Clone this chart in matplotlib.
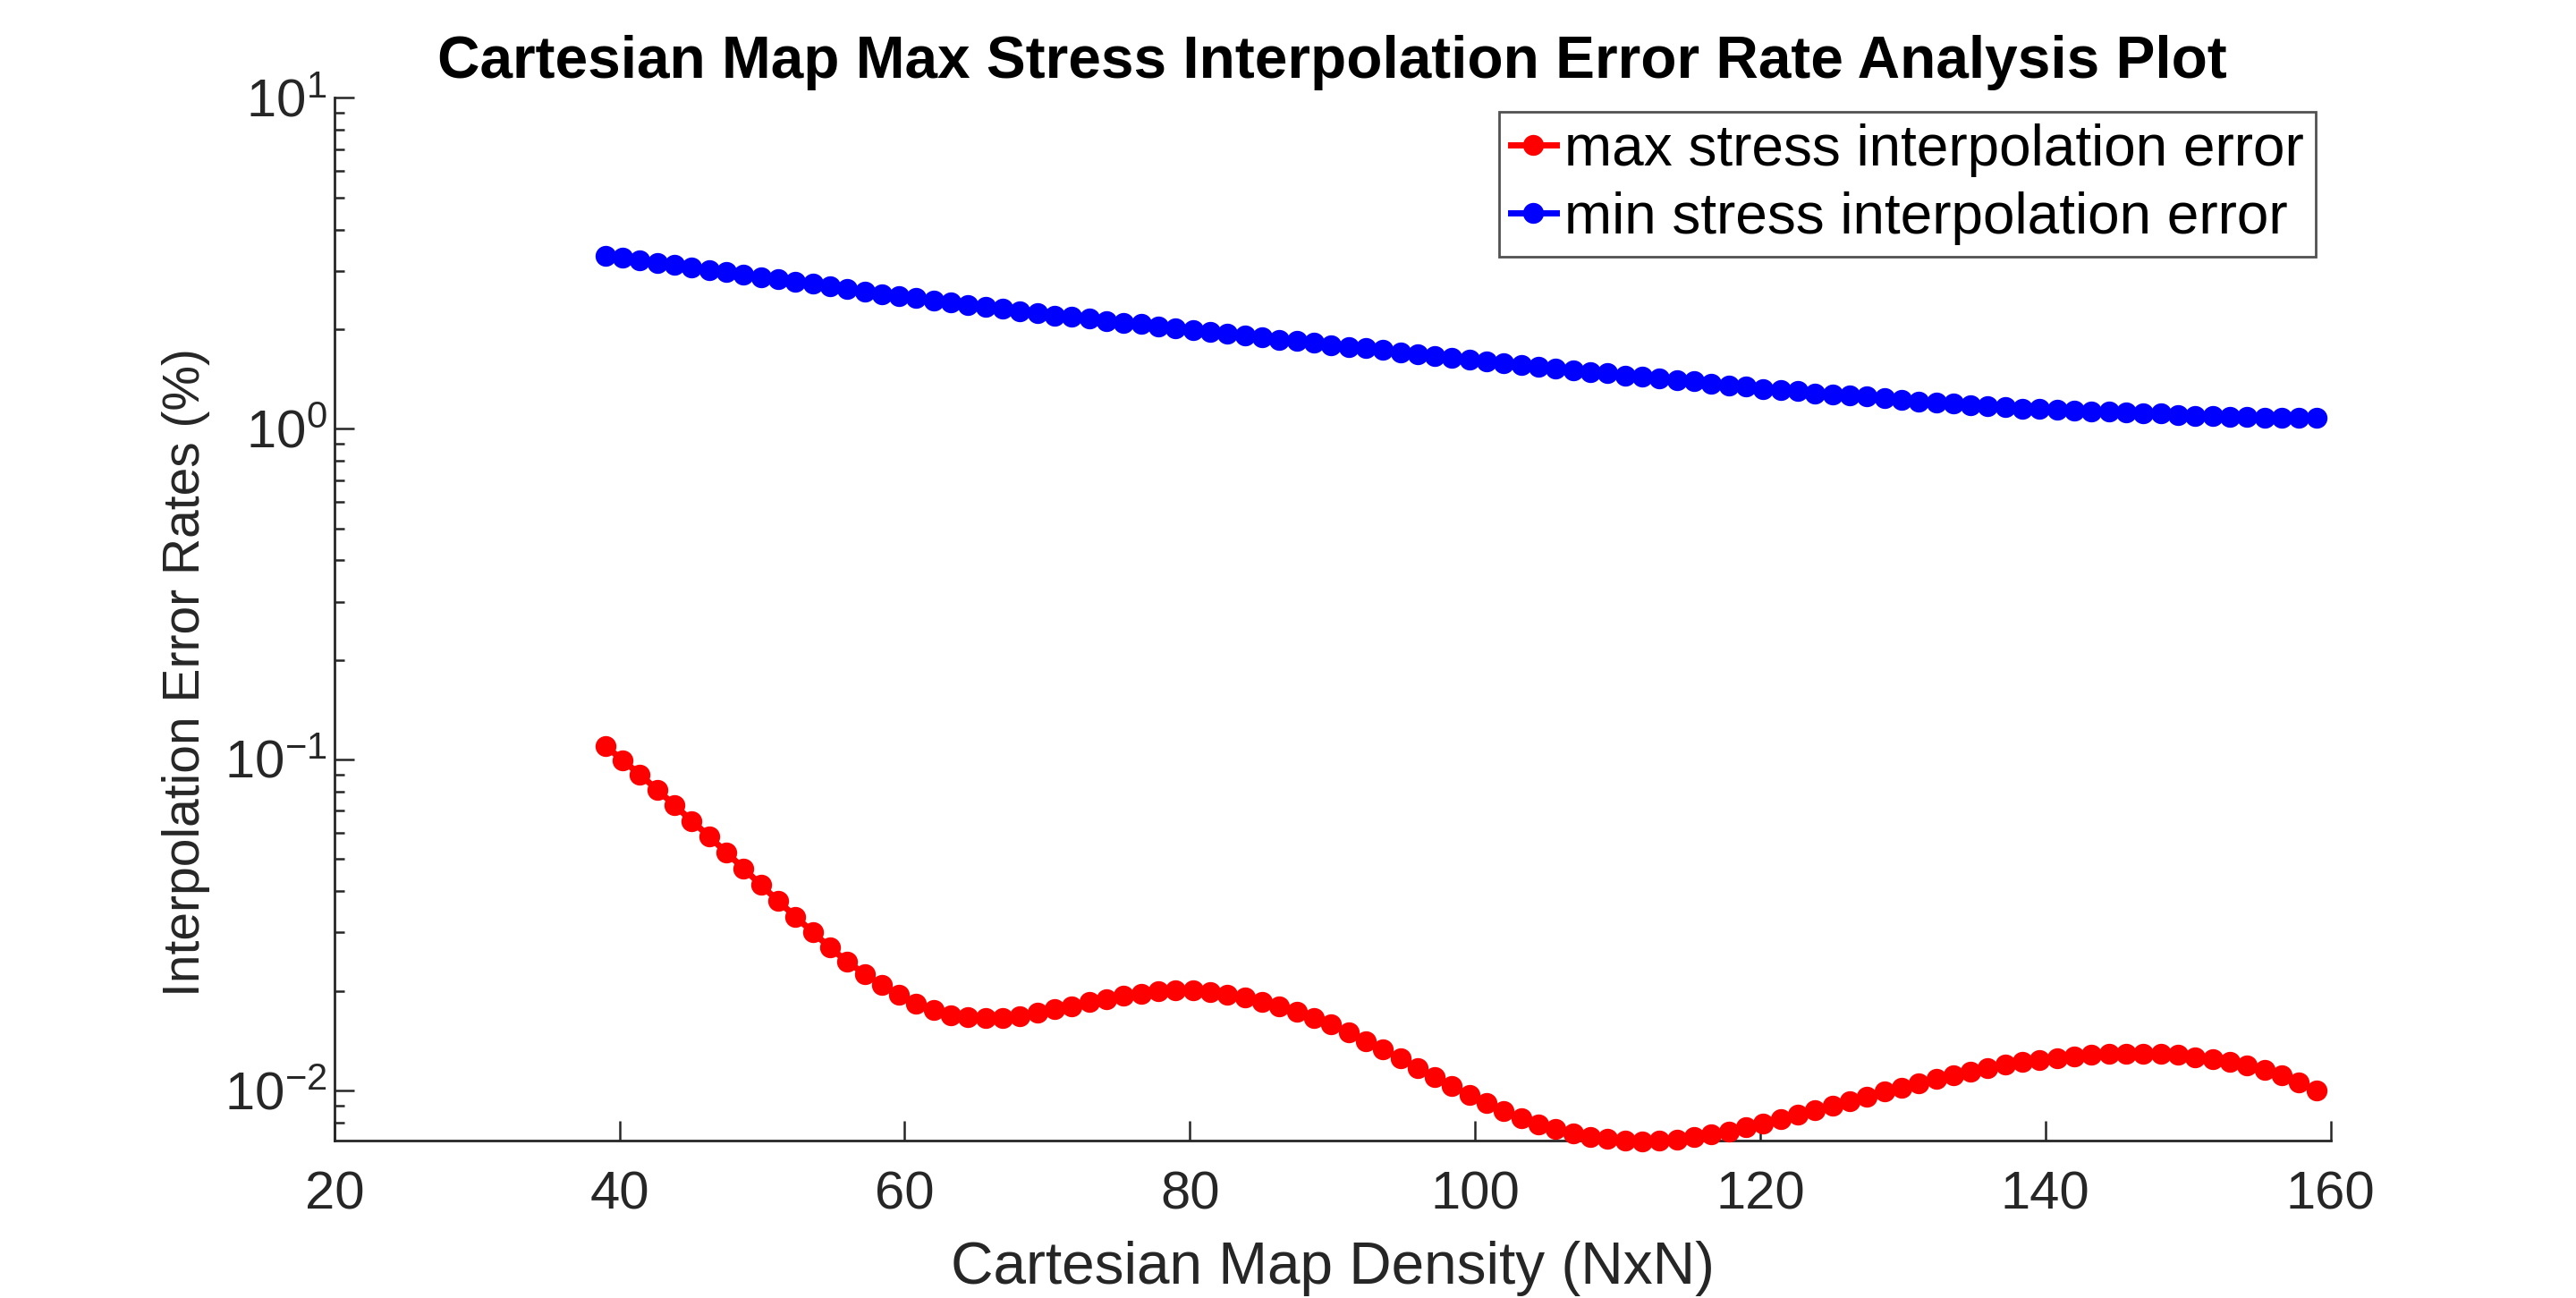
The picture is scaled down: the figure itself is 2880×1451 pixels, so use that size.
import numpy as np
import matplotlib
matplotlib.use("Agg")
from matplotlib import pyplot as plt

# map density N (NxN grid), 100 samples from 39 to 159
density = np.linspace(39, 159, 100)

max_stress_err = [
    0.1100, 0.0996, 0.0901, 0.0811, 0.0728, 0.0653, 0.0586, 0.0524, 0.0469, 0.0418,
    0.0374, 0.0335, 0.0301, 0.0270, 0.0245, 0.0225, 0.0208, 0.0194, 0.0183, 0.0175,
    0.0169, 0.0167, 0.0166, 0.0166, 0.0168, 0.0172, 0.0176, 0.0180, 0.0185, 0.0189,
    0.0193, 0.0196, 0.0199, 0.0201, 0.0201, 0.0198, 0.0195, 0.0191, 0.0185, 0.0180,
    0.0173, 0.0166, 0.0158, 0.0150, 0.0141, 0.0133, 0.0125, 0.0117, 0.0110, 0.0103,
    0.00969, 0.00915, 0.00867, 0.00826, 0.00791, 0.00764, 0.00742, 0.00725, 0.00713, 0.00704,
    0.00701, 0.00704, 0.00711, 0.00723, 0.00738, 0.00752, 0.00773, 0.00794, 0.00821, 0.00845,
    0.00872, 0.00899, 0.00928, 0.00959, 0.00991, 0.01021, 0.01053, 0.01084, 0.01114, 0.01140,
    0.01169, 0.01194, 0.01216, 0.01236, 0.01254, 0.01270, 0.01283, 0.01291, 0.01294, 0.01294,
    0.01291, 0.01281, 0.01262, 0.01246, 0.01223, 0.01191, 0.01152, 0.01110, 0.01057, 0.00998,
]

min_stress_err = [
    3.33, 3.28, 3.22, 3.17, 3.12, 3.07, 3.02, 2.97, 2.92, 2.87,
    2.83, 2.78, 2.74, 2.69, 2.64, 2.60, 2.55, 2.51, 2.48, 2.44,
    2.41, 2.37, 2.33, 2.30, 2.26, 2.23, 2.20, 2.18, 2.15, 2.12,
    2.09, 2.07, 2.04, 2.01, 1.99, 1.96, 1.94, 1.91, 1.89, 1.86,
    1.84, 1.82, 1.79, 1.77, 1.75, 1.73, 1.70, 1.68, 1.66, 1.64,
    1.62, 1.60, 1.58, 1.56, 1.54, 1.52, 1.50, 1.48, 1.47, 1.45,
    1.44, 1.42, 1.40, 1.39, 1.37, 1.35, 1.34, 1.32, 1.31, 1.30,
    1.28, 1.27, 1.26, 1.25, 1.24, 1.22, 1.21, 1.20, 1.19, 1.18,
    1.17, 1.16, 1.15, 1.145, 1.14, 1.135, 1.13, 1.125, 1.12, 1.115,
    1.11, 1.10, 1.095, 1.09, 1.087, 1.083, 1.08, 1.079, 1.078, 1.077,
]

x_ticks = [20, 40, 60, 80, 100, 120, 140, 160]

plt.rcParams['font.family'] = ['Liberation Sans', 'DejaVu Sans']
plt.rcParams['mathtext.fontset'] = 'custom'
plt.rcParams['mathtext.rm'] = 'Liberation Sans'
plt.rcParams['mathtext.it'] = 'Liberation Sans:italic'

axis_grey = (0.15, 0.15, 0.15)

fig = plt.figure(figsize=(14.4, 7.255), dpi=200)
ax = fig.add_axes([0.1298, 0.1211, 0.7749, 0.8035])

ax.plot(density, max_stress_err, '-o', color='red', lw=2.5, ms=7.4,
        label='max stress interpolation error', clip_on=False, zorder=5)
ax.plot(density, min_stress_err, '-o', color='blue', lw=2.5, ms=7.4,
        label='min stress interpolation error', clip_on=False, zorder=5)

ax.set_yscale('log')
ax.set_xlim(20, 160)
ax.set_ylim(0.00704, 10)
ax.set_xticks(x_ticks)

for side in ['top', 'right']:
    ax.spines[side].set_visible(False)
for side in ['left', 'bottom']:
    ax.spines[side].set_color(axis_grey)
    ax.spines[side].set_linewidth(1.0)

ax.tick_params(which='both', direction='in', colors=axis_grey, labelsize=21.5,
               top=False, right=False)
ax.tick_params(which='major', length=7.9, width=0.9)
ax.tick_params(which='minor', length=4, width=0.9)
ax.tick_params(axis='x', which='minor', bottom=False)
ax.tick_params(axis='x', labelcolor=axis_grey, pad=12)
ax.tick_params(axis='y', labelcolor=axis_grey, pad=3)

ax.set_xlabel('Cartesian Map Density (NxN)', fontsize=23.7, color=axis_grey, labelpad=8.5)
ax.set_ylabel('Interpolation Error Rates (%)', fontsize=20.5, color=axis_grey)
ax.yaxis.set_label_coords(-0.062, 0.449)
ax.set_title('Cartesian Map Max Stress Interpolation Error Rate Analysis Plot',
             fontsize=23.7, fontweight='bold', color='black', pad=8)

leg = ax.legend(loc='upper right', bbox_to_anchor=(0.9926, 0.9866), fontsize=23,
                frameon=True, fancybox=False, handlelength=0.8, handletextpad=0.15,
                borderpad=0.2, labelspacing=0.25, borderaxespad=0)
leg.get_frame().set_edgecolor(axis_grey)
leg.get_frame().set_linewidth(1.0)

fig.savefig('out.png', dpi=200, facecolor='white')
